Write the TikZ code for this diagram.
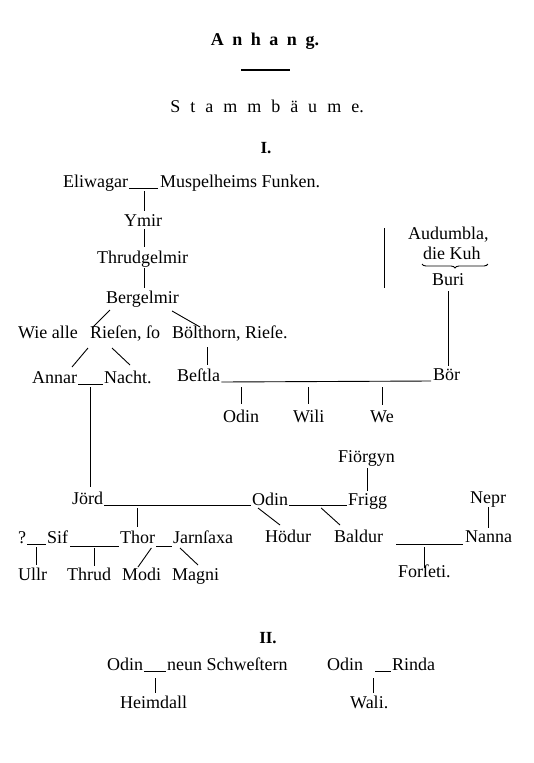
\documentclass[tikz,border=0pt]{standalone}
\usepackage{fontspec}
\setmainfont{Liberation Serif}
\usetikzlibrary{calc,decorations.pathreplacing}
\tikzset{
  fr/.style={inner sep=0pt, anchor=base west, font=\fontsize{18}{20}\selectfont},
  ln/.style={line width=0.9pt},
  rom/.style={inner sep=0pt, font=\fontsize{17}{20}\selectfont\bfseries},
  bracedeco/.style={line width=0.9pt, decorate, decoration={brace, amplitude=4pt}}
}
\begin{document}
\begin{tikzpicture}[x=1pt,y=-1pt]
\useasboundingbox (0,0) rectangle (533,763);
% titles
\node[inner sep=0pt, anchor=base, font=\fontsize{18}{20}\selectfont\bfseries] (anhang) at (265,45) {A\kern8.5pt n\kern8.5pt h\kern8.5pt a\kern8.5pt n\kern8.5pt g.};
\draw[line width=1.3pt] (241,70) -- (290,70);
\node[inner sep=0pt, anchor=base, font=\fontsize{18}{20}\selectfont] (stamm) at (267,112) {S\kern10pt t\kern10pt a\kern10pt m\kern10pt m\kern10pt b\kern10pt ä\kern10pt u\kern10pt m\kern10pt e.};
\node[rom, anchor=base] (rI) at (266,153) {I.};
% tree I
\node[fr] (eli) at (63,187) {Eliwagar};
\node[fr] (musp) at (160,187) {Muspelheims Funken.};
\node[fr] (ymir) at (124,226) {Ymir};
\node[fr] (thrud) at (97,263) {Thrudgelmir};
\node[fr] (berg) at (106,303) {Bergelmir};
\node[fr] (wie) at (18,338) {Wie alle};
\node[fr] (ries) at (90,338) {Rieſen, ſo};
\node[fr] (boel) at (172,338) {Bölthorn, Rieſe.};
\node[fr] (annar) at (32,383) {Annar};
\node[fr] (nacht) at (104,383) {Nacht.};
\node[fr] (bestla) at (177,381) {Beſtla};
\node[fr] (boer) at (433,380) {Bör};
\node[fr] (odinA) at (223,422) {Odin};
\node[fr] (wili) at (293,422) {Wili};
\node[fr] (we) at (370,422) {We};
\node[fr] (aud) at (408,239) {Audumbla,};
\node[fr] (kuh) at (423,259) {die Kuh};
\node[fr] (buri) at (432,285) {Buri};
\node[fr] (fio) at (338,462) {Fiörgyn};
\node[fr] (jord) at (72,504) {Jörd};
\node[fr] (odinB) at (252,505) {Odin};
\node[fr] (frigg) at (348,505) {Frigg};
\node[fr] (nepr) at (470,503) {Nepr};
\node[fr] (qm) at (18,543) {?};
\node[fr] (sif) at (47,543) {Sif};
\node[fr] (thor) at (120,543) {Thor};
\node[fr] (jarn) at (173,543) {Jarnſaxa};
\node[fr] (hod) at (265,542) {Hödur};
\node[fr] (bald) at (334,542) {Baldur};
\node[fr] (nanna) at (465,542) {Nanna};
\node[fr] (ullr) at (18,580) {Ullr};
\node[fr] (thrudB) at (67,580) {Thrud};
\node[fr] (modi) at (122,580) {Modi};
\node[fr] (magni) at (172,580) {Magni};
\node[fr] (fors) at (398,577) {Forſeti.};
% tree II
\node[rom, anchor=base] (rII) at (268,643) {II.};
\node[fr] (odinC) at (107,670) {Odin};
\node[fr] (neun) at (167,670) {neun Schweſtern};
\node[fr] (heim) at (120,708) {Heimdall};
\node[fr] (odinD) at (327,670) {Odin};
\node[fr] (rinda) at (392,670) {Rinda};
\node[fr] (wali) at (350,708) {Wali.};
% connectors tree I
\coordinate (m1) at ($(eli.base east)!.5!(musp.base west)+(0,1)$);
\draw[ln] ($(eli.base east)+(1,1)$) -- ($(musp.base west)+(-2,1)$);
\draw[ln] ($(m1)+(0,3)$) -- ($(m1 |- ymir.north)+(0,-3)$);
\draw[ln] ($(m1 |- ymir.base)+(0,3)$) -- ($(m1 |- thrud.north)+(0,-3)$);
\draw[ln] ($(m1 |- thrud.base)+(0,5)$) -- ($(m1 |- berg.north)+(0,-2)$);
\draw[ln] ($(berg.base west)+(4,7)$) -- ($(ries.base west)+(2,-10)$);
\draw[ln] ($(berg.base east)+(-7,8)$) -- ($(boel.base west)+(28,-11)$);
\draw[ln] ($(ries.base west)+(-2,10)$) -- ($(annar.base west)+(40,-16)$);
\draw[ln] ($(ries.base west)+(22,10)$) -- ($(nacht.base west)+(26,-18)$);
\draw[ln] ($(boel.base west)+(35,9)$) -- ($(bestla.base west)+(30,-16)$);
\coordinate (m2) at ($(annar.base east)!.5!(nacht.base west)+(0,1)$);
\draw[ln] ($(annar.base east)+(1,1)$) -- ($(nacht.base west)+(-1,1)$);
\draw[ln] ($(m2)+(0,3)$) -- ($(m2 |- jord.north)+(0,-4)$);
\coordinate (bb) at ($(bestla.base east)+(0,6)$);
\draw[ln] ($(bestla.base east)+(1,1)$) -- ($(boer.base west)+(-2,1)$);
\draw[ln] (odinA.north |- bb) -- ($(odinA.north)+(0,-5)$);
\draw[ln] (wili.north |- bb) -- ($(wili.north)+(0,-5)$);
\draw[ln] (we.north |- bb) -- ($(we.north)+(0,-5)$);
\draw[ln] ($(buri.base)+(0,6)$) -- ($(buri.base |- boer.north)+(0,-2)$);
\draw[bracedeco] ($(kuh.base east)+(7,5)$) -- ($(kuh.base west)+(-1,5)$);
\draw[ln] (384,228) -- (384,288);
\coordinate (jl) at ($(jord.base east)+(0,4)$);
\draw[ln] ($(jord.base east)+(1,1)$) -- ($(odinB.base west)+(-1,0)$);
\draw[ln] (thor.north |- jl) -- ($(thor.north)+(0,-3)$);
\draw[ln] ($(odinB.base east)+(1,0)$) -- ($(frigg.base west)+(-1,0)$);
\draw[ln] ($(frigg.north |- fio.base)+(0,6)$) -- ($(frigg.north)+(0,-2)$);
\draw[ln] ($(odinB.base west)+(6,3)$) -- ($(hod.base west)+(15,-17)$);
\draw[ln] ($(odinB.base east)!.55!(frigg.base west)+(0,3)$) -- ($(bald.base west)+(6,-17)$);
\draw[ln] ($(nanna.north |- nepr.base)+(0,4)$) -- ($(nanna.north)+(0,-2)$);
\coordinate (m5) at ($(bald.base east)!.5!(nanna.base west)+(0,2)$);
\draw[ln] ($(bald.base east)+(13,2)$) -- ($(nanna.base west)+(-2,2)$);
\draw[ln] ($(m5)+(0,3)$) -- ($(m5 |- fors.base)+(0,-9)$);
\coordinate (m6) at ($(qm.base east)!.5!(sif.base west)+(0,1)$);
\draw[ln] ($(qm.base east)+(1,1)$) -- ($(sif.base west)+(-1,1)$);
\draw[ln] ($(m6)+(0,3)$) -- ($(m6 |- ullr.north)+(0,-2)$);
\coordinate (m7) at ($(sif.base east)!.5!(thor.base west)+(0,3)$);
\draw[ln] ($(sif.base east)+(2,3)$) -- ($(thor.base west)+(-1,3)$);
\draw[ln] ($(m7)+(0,2)$) -- ($(m7 |- thrudB.north)+(0,-1)$);
\draw[ln] ($(thor.base east)+(1,3)$) -- ($(jarn.base west)+(-1,3)$);
\draw[ln] ($(thor.base east)+(-4,5)$) -- ($(modi.base west)+(16,-13)$);
\draw[ln] ($(jarn.base west)+(7,5)$) -- ($(magni.base west)+(26,-15)$);
% connectors tree II
\coordinate (m8) at ($(odinC.base east)!.5!(neun.base west)+(0,1)$);
\draw[ln] ($(odinC.base east)+(1,1)$) -- ($(neun.base west)+(-1,1)$);
\draw[ln] ($(m8)+(0,7)$) -- ($(m8 |- heim.north)+(0,-2)$);
\draw[ln] ($(rinda.base west)+(-17,1)$) -- ($(rinda.base west)+(-1,1)$);
\draw[ln] ($(rinda.base west)+(-19,8)$) -- ($(rinda.base west |- wali.north)+(-19,-2)$);
\end{tikzpicture}
\end{document}
